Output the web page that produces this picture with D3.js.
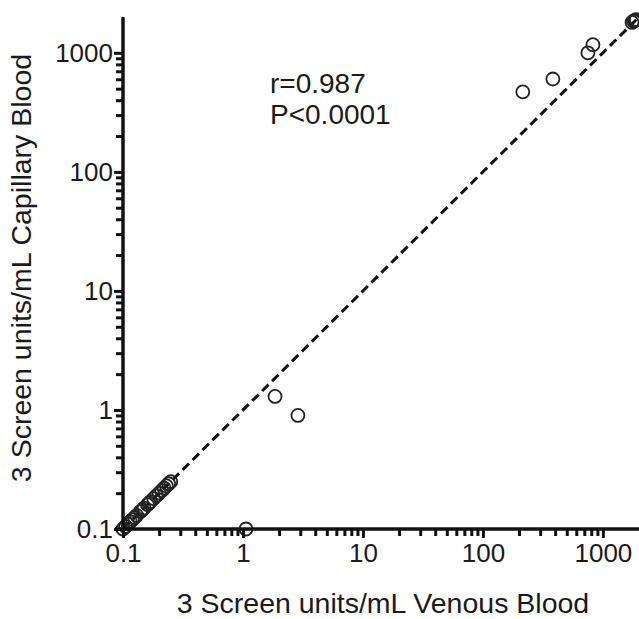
<!DOCTYPE html>
<html>
<head>
<meta charset="utf-8">
<script src="https://cdn.jsdelivr.net/npm/d3@7"></script>
<style>
  body { margin: 0; background: #fff; }
  text { font-family: "Liberation Sans", Arial, Helvetica, sans-serif; fill: #1a1a1a; }
</style>
</head>
<body>
<div id="chart"></div>
<script>
// Venous vs capillary values (units/mL)
const venous = [0.1, 0.105, 0.11, 0.115, 0.12, 0.125, 0.13, 0.14, 0.145, 0.15, 0.16, 0.165, 0.17, 0.18, 0.19, 0.2, 0.21, 0.22, 0.23, 0.24, 0.25,
    1.06, 1.85, 2.87, 215, 383, 750, 826, 1750, 1800, 1850, 1900];
const capillary = [0.1, 0.105, 0.11, 0.115, 0.12, 0.125, 0.13, 0.14, 0.145, 0.15, 0.16, 0.165, 0.17, 0.18, 0.19, 0.2, 0.21, 0.22, 0.23, 0.24, 0.25,
    0.1, 1.3, 0.9, 470, 603, 1000, 1170, 1800, 1850, 1880, 1900];
const majorTicks = [0.1, 1, 10, 100, 1000];
const tickLabels = ["0.1", "1", "10", "100", "1000"];
const minorTicks = [0.2, 0.3, 0.4, 0.5, 0.6, 0.7, 0.8, 0.9,
    2, 3, 4, 5, 6, 7, 8, 9,
    20, 30, 40, 50, 60, 70, 80, 90,
    200, 300, 400, 500, 600, 700, 800, 900];
const domain = [0.1, 2000];

const W = 639, H = 619;
const svg = d3.select("#chart").append("svg")
    .attr("width", W)
    .attr("height", H);

const x = d3.scaleLog().domain(domain).range([123, 639]);
const y = d3.scaleLog().domain(domain).range([529, 17]);

// identity line
svg.append("line")
    .attr("x1", x(domain[0])).attr("y1", y(domain[0]))
    .attr("x2", x(domain[1])).attr("y2", y(domain[1]))
    .attr("stroke", "#111")
    .attr("stroke-width", 3)
    .attr("stroke-dasharray", "9,5");

// points
svg.selectAll(".pt")
    .data(venous.map((v, i) => [v, capillary[i]]))
    .enter().append("circle")
    .attr("class", "pt")
    .attr("cx", d => x(d[0]))
    .attr("cy", d => y(d[1]))
    .attr("r", 6.5)
    .attr("fill", "none")
    .attr("stroke", "#222")
    .attr("stroke-width", 1.8);

// x axis: minor ticks, then major ticks with labels
const xMin = svg.append("g").attr("transform", `translate(0,${y(domain[0])})`)
    .call(d3.axisBottom(x).tickValues(minorTicks).tickSize(7).tickFormat(() => ""));
xMin.selectAll(".tick line").attr("stroke", "#111").attr("stroke-width", 3);
xMin.select(".domain").attr("stroke", "#111").attr("stroke-width", 3.5)
    .attr("d", `M${x(domain[0]) - 8},0H${x(domain[1])}`);

const xMaj = svg.append("g").attr("transform", `translate(0,${y(domain[0])})`)
    .call(d3.axisBottom(x).tickValues(majorTicks).tickSize(9).tickPadding(6)
        .tickFormat((d, i) => tickLabels[i]));
xMaj.select(".domain").remove();
xMaj.selectAll(".tick line").attr("stroke", "#111").attr("stroke-width", 3);
xMaj.selectAll(".tick text").style("font-size", "26px");

// y axis
const yMin = svg.append("g").attr("transform", `translate(${x(domain[0])},0)`)
    .call(d3.axisLeft(y).tickValues(minorTicks).tickSize(7).tickFormat(() => ""));
yMin.selectAll(".tick line").attr("stroke", "#111").attr("stroke-width", 3);
yMin.select(".domain").attr("stroke", "#111").attr("stroke-width", 3.5)
    .attr("d", `M0,${y(domain[0])}V${y(domain[1])}`);

const yMaj = svg.append("g").attr("transform", `translate(${x(domain[0])},0)`)
    .call(d3.axisLeft(y).tickValues(majorTicks).tickSize(9).tickPadding(1)
        .tickFormat((d, i) => tickLabels[i]));
yMaj.select(".domain").remove();
yMaj.selectAll(".tick line").attr("stroke", "#111").attr("stroke-width", 3);
yMaj.selectAll(".tick text").style("font-size", "26px");

// correlation text
svg.append("text").attr("x", 270).attr("y", 93).style("font-size", "28px").text("r=0.987");
svg.append("text").attr("x", 270).attr("y", 124).style("font-size", "28px").text("P<0.0001");

// axis titles
svg.append("text")
    .attr("x", 383).attr("y", 613)
    .attr("text-anchor", "middle")
    .style("font-size", "28.5px")
    .text("3 Screen units/mL Venous Blood");
svg.append("text")
    .attr("transform", "translate(31,268) rotate(-90)")
    .attr("text-anchor", "middle")
    .style("font-size", "28.5px")
    .text("3 Screen units/mL Capillary Blood");
</script>
</body>
</html>
